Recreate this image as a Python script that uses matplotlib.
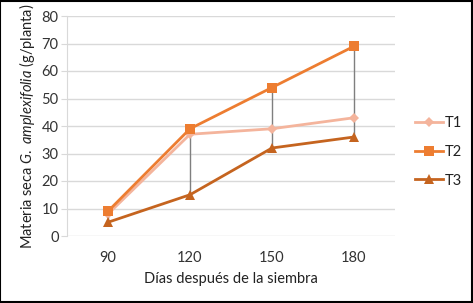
import matplotlib
matplotlib.use("Agg")
import matplotlib.pyplot as plt
import numpy as np

days = ["90", "120", "150", "180"]
t1 = [8, 37, 39, 43]
t2 = [9, 39, 54, 69]
t3 = [5, 15, 32, 36]
series_names = ["T1", "T2", "T3"]

plt.rcParams['font.family'] = ['Lato', 'DejaVu Sans']
plt.rcParams['mathtext.fontset'] = 'custom'
plt.rcParams['mathtext.it'] = 'Lato:italic'
plt.rcParams['mathtext.rm'] = 'Lato'

fig = plt.figure(figsize=(4.73, 3.03), dpi=100)
ax = fig.add_axes([67/473, 1-236/303, (395-67)/473, (236-16)/303])

x = np.arange(len(days))
data = np.array([t1, t2, t3])
# high-low lines
ax.vlines(x, data.min(axis=0), data.max(axis=0), color='#7F7F7F', lw=1.0, zorder=2)

ax.plot(x, t1, color='#F4B49C', lw=2, marker='D', ms=5.5, mew=0, label=series_names[0], zorder=3)
ax.plot(x, t3, color='#C5641F', lw=2, marker='^', ms=7, mew=0, label=series_names[2], zorder=4)
ax.plot(x, t2, color='#ED7D31', lw=2, marker='s', ms=6.5, mew=0, label=series_names[1], zorder=5)

ax.set_xlim(-0.5, 3.5)
ax.set_ylim(0, 80)
ax.set_yticks(range(0, 81, 10))
ax.set_xticks(x)
ax.set_xticklabels(days)
ax.grid(axis='y', color='#D9D9D9', lw=1)
ax.set_axisbelow(True)
for s in ['top', 'right', 'bottom']:
    ax.spines[s].set_visible(False)
ax.spines['left'].set_color('#D9D9D9')
ax.tick_params(axis='y', length=4, color='#D9D9D9', labelsize=10.5, labelcolor='#333333', pad=2)
ax.tick_params(axis='x', length=0, labelsize=10.5, labelcolor='#333333', pad=11)

ax.set_xlabel('Días después de la siembra', fontsize=10.5, color='#222222', labelpad=5)
ax.set_ylabel(r'Materia seca $\mathit{G.\ amplexifolia}$ (g/planta)', fontsize=10.5, color='#222222', labelpad=3)

handles, labels = ax.get_legend_handles_labels()
order = [labels.index(n) for n in series_names]
leg = fig.legend([handles[i] for i in order], [labels[i] for i in order],
                 loc='center left', bbox_to_anchor=(402/473, 1-152/303), frameon=False,
                 fontsize=10.5, labelspacing=1.0, handlelength=1.9, handletextpad=0.15)
for t in leg.get_texts():
    t.set_color('#222222')

fig.patches.append(plt.Rectangle((0.001, 0.002), 0.997, 0.996, transform=fig.transFigure,
                                 fill=False, edgecolor='black', lw=1.5))
fig.savefig('out.png', dpi=100)
